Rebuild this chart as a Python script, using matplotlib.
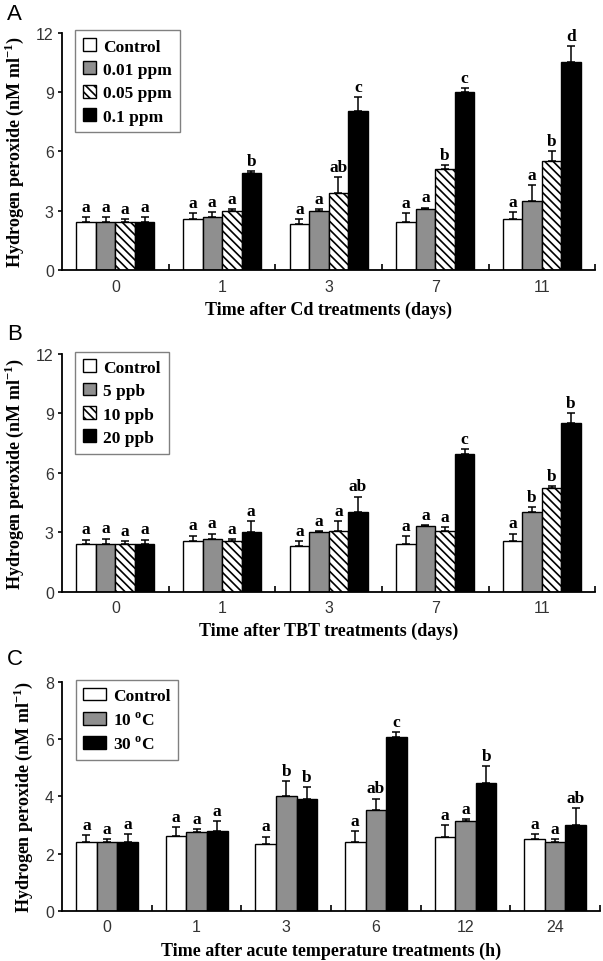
import numpy as np
import matplotlib
matplotlib.use("Agg")
import matplotlib.pyplot as plt

plt.rcParams['hatch.linewidth'] = 1.2

# ---- data ----
days = ["0", "1", "3", "7", "11"]
hours = ["0", "1", "3", "6", "12", "24"]

cd_labels = ["Control", "0.01 ppm", "0.05 ppm", "0.1 ppm"]
cd_mean = [[2.45, 2.57, 2.32, 2.45, 2.57],
           [2.45, 2.70, 2.98, 3.10, 3.52],
           [2.45, 3.00, 3.92, 5.12, 5.53],
           [2.45, 4.90, 8.02, 9.00, 10.53]]
cd_err = [[0.25, 0.30, 0.26, 0.42, 0.38],
          [0.25, 0.25, 0.12, 0.07, 0.80],
          [0.12, 0.10, 0.78, 0.18, 0.50],
          [0.23, 0.10, 0.75, 0.20, 0.79]]
cd_sig = [["a", "a", "a", "a", "a"],
          ["a", "a", "a", "a", "a"],
          ["a", "a", "ab", "b", "b"],
          ["a", "b", "c", "c", "d"]]

tbt_labels = ["Control", "5 ppb", "10 ppb", "20 ppb"]
tbt_mean = [[2.42, 2.55, 2.28, 2.42, 2.53],
            [2.42, 2.68, 3.00, 3.33, 4.00],
            [2.42, 2.58, 3.07, 3.07, 5.23],
            [2.42, 3.00, 4.00, 6.97, 8.52]]
tbt_err = [[0.21, 0.28, 0.29, 0.40, 0.40],
           [0.26, 0.25, 0.07, 0.03, 0.27],
           [0.11, 0.09, 0.48, 0.18, 0.10],
           [0.21, 0.58, 0.80, 0.25, 0.48]]
tbt_sig = [["a", "a", "a", "a", "a"],
           ["a", "a", "a", "a", "b"],
           ["a", "a", "a", "a", "b"],
           ["a", "a", "ab", "c", "b"]]

temp_labels = ["Control", "10 $^{\\mathregular{o}}$C", "30 $^{\\mathregular{o}}$C"]
temp_mean = [[2.41, 2.61, 2.35, 2.41, 2.58, 2.50],
             [2.41, 2.76, 4.01, 3.52, 3.14, 2.41],
             [2.41, 2.81, 3.93, 6.08, 4.46, 3.00]]
temp_err = [[0.24, 0.32, 0.25, 0.39, 0.41, 0.20],
            [0.09, 0.10, 0.52, 0.41, 0.08, 0.09],
            [0.27, 0.33, 0.41, 0.18, 0.62, 0.59]]
temp_sig = [["a", "a", "a", "a", "a", "a"],
            ["a", "a", "b", "ab", "a", "a"],
            ["a", "a", "b", "c", "b", "ab"]]

styles4 = [dict(color="white"), dict(color="#8f8f8f"),
           dict(color="white", hatch="\\\\\\\\"), dict(color="black")]
styles3 = [dict(color="white"), dict(color="#8f8f8f"), dict(color="black")]

serif = "Liberation Serif"
sans = "Liberation Sans"


def panel(ax, groups, labels, means, errs, sigs, styles, ymax, ystep, xlabel,
          width, hl):
    n = len(groups)
    k = len(labels)
    x = np.arange(n)
    handles = []
    for i in range(k):
        pos = x + (i - (k - 1) / 2) * width
        b = ax.bar(pos, means[i], width, edgecolor="black", linewidth=1,
                   zorder=2, label=labels[i], **styles[i])
        handles.append(b)
        ax.errorbar(pos, means[i], yerr=[np.zeros(n), errs[i]], fmt="none",
                    ecolor="black", elinewidth=1.1, capsize=3, capthick=1.1,
                    zorder=1)
        for j in range(n):
            ax.annotate(sigs[i][j], (pos[j], means[i][j] + errs[i][j]),
                        xytext=(0, 1.5), textcoords="offset points",
                        ha="center", va="bottom", fontsize=12.5,
                        fontweight="bold", family=serif)
    ax.set_xlim(-0.5, n - 0.5)
    ax.set_ylim(0, ymax)
    ax.set_yticks(np.arange(0, ymax + 0.1, ystep))
    ax.set_xticks(x)
    ax.set_xticklabels(groups)
    ax.set_xticks(np.arange(0.5, n, 1), minor=True)
    ax.tick_params(axis="x", which="major", length=0, pad=6)
    ax.tick_params(axis="x", which="minor", direction="in", length=4, width=1.2)
    ax.tick_params(axis="y", direction="out", length=3, width=1.2, pad=3)
    for t in ax.get_xticklabels() + ax.get_yticklabels():
        t.set_fontfamily(sans)
        t.set_fontsize(11.5)
        t.set_color("#333333")
    ax.spines["top"].set_visible(False)
    ax.spines["right"].set_visible(False)
    ax.spines["left"].set_linewidth(1.3)
    ax.spines["bottom"].set_linewidth(1.3)
    ax.set_xlabel(xlabel, fontsize=13, fontweight="bold", family=serif,
                  labelpad=5)
    ax.set_ylabel("Hydrogen peroxide (nM ml$^{\\mathregular{-1}}$)",
                  fontsize=13, fontweight="bold", family=serif, labelpad=7)
    leg = ax.legend(handles=handles, loc="upper left",
                    bbox_to_anchor=(0.025, 1.01), borderaxespad=0,
                    fancybox=False, framealpha=1, edgecolor="#808080",
                    prop=dict(family=serif, weight="bold", size=12.5),
                    handlelength=hl, handleheight=0.75, handletextpad=0.4,
                    labelspacing=0.4, borderpad=0.45)
    leg.get_frame().set_linewidth(1.0)


fig = plt.figure(figsize=(6.03, 9.62), dpi=100)
axA = fig.add_axes([0.103, 0.718, 0.884, 0.247])
axB = fig.add_axes([0.103, 0.384, 0.884, 0.247])
axC = fig.add_axes([0.103, 0.052, 0.892, 0.238])

panel(axA, days, cd_labels, cd_mean, cd_err, cd_sig, styles4, 12, 3,
      "Time after Cd treatments (days)", 0.183, 0.75)
panel(axB, days, tbt_labels, tbt_mean, tbt_err, tbt_sig, styles4, 12, 3,
      "Time after TBT treatments (days)", 0.183, 0.75)
panel(axC, hours, temp_labels, temp_mean, temp_err, temp_sig, styles3, 8, 2,
      "Time after acute temperature treatments (h)", 0.23, 1.3)

for lab, y in [("A", 0.985), ("B", 0.652), ("C", 0.314)]:
    fig.text(0.012, y, lab, fontsize=16, family=sans, va="center")

fig.savefig("out.png", dpi=100)
